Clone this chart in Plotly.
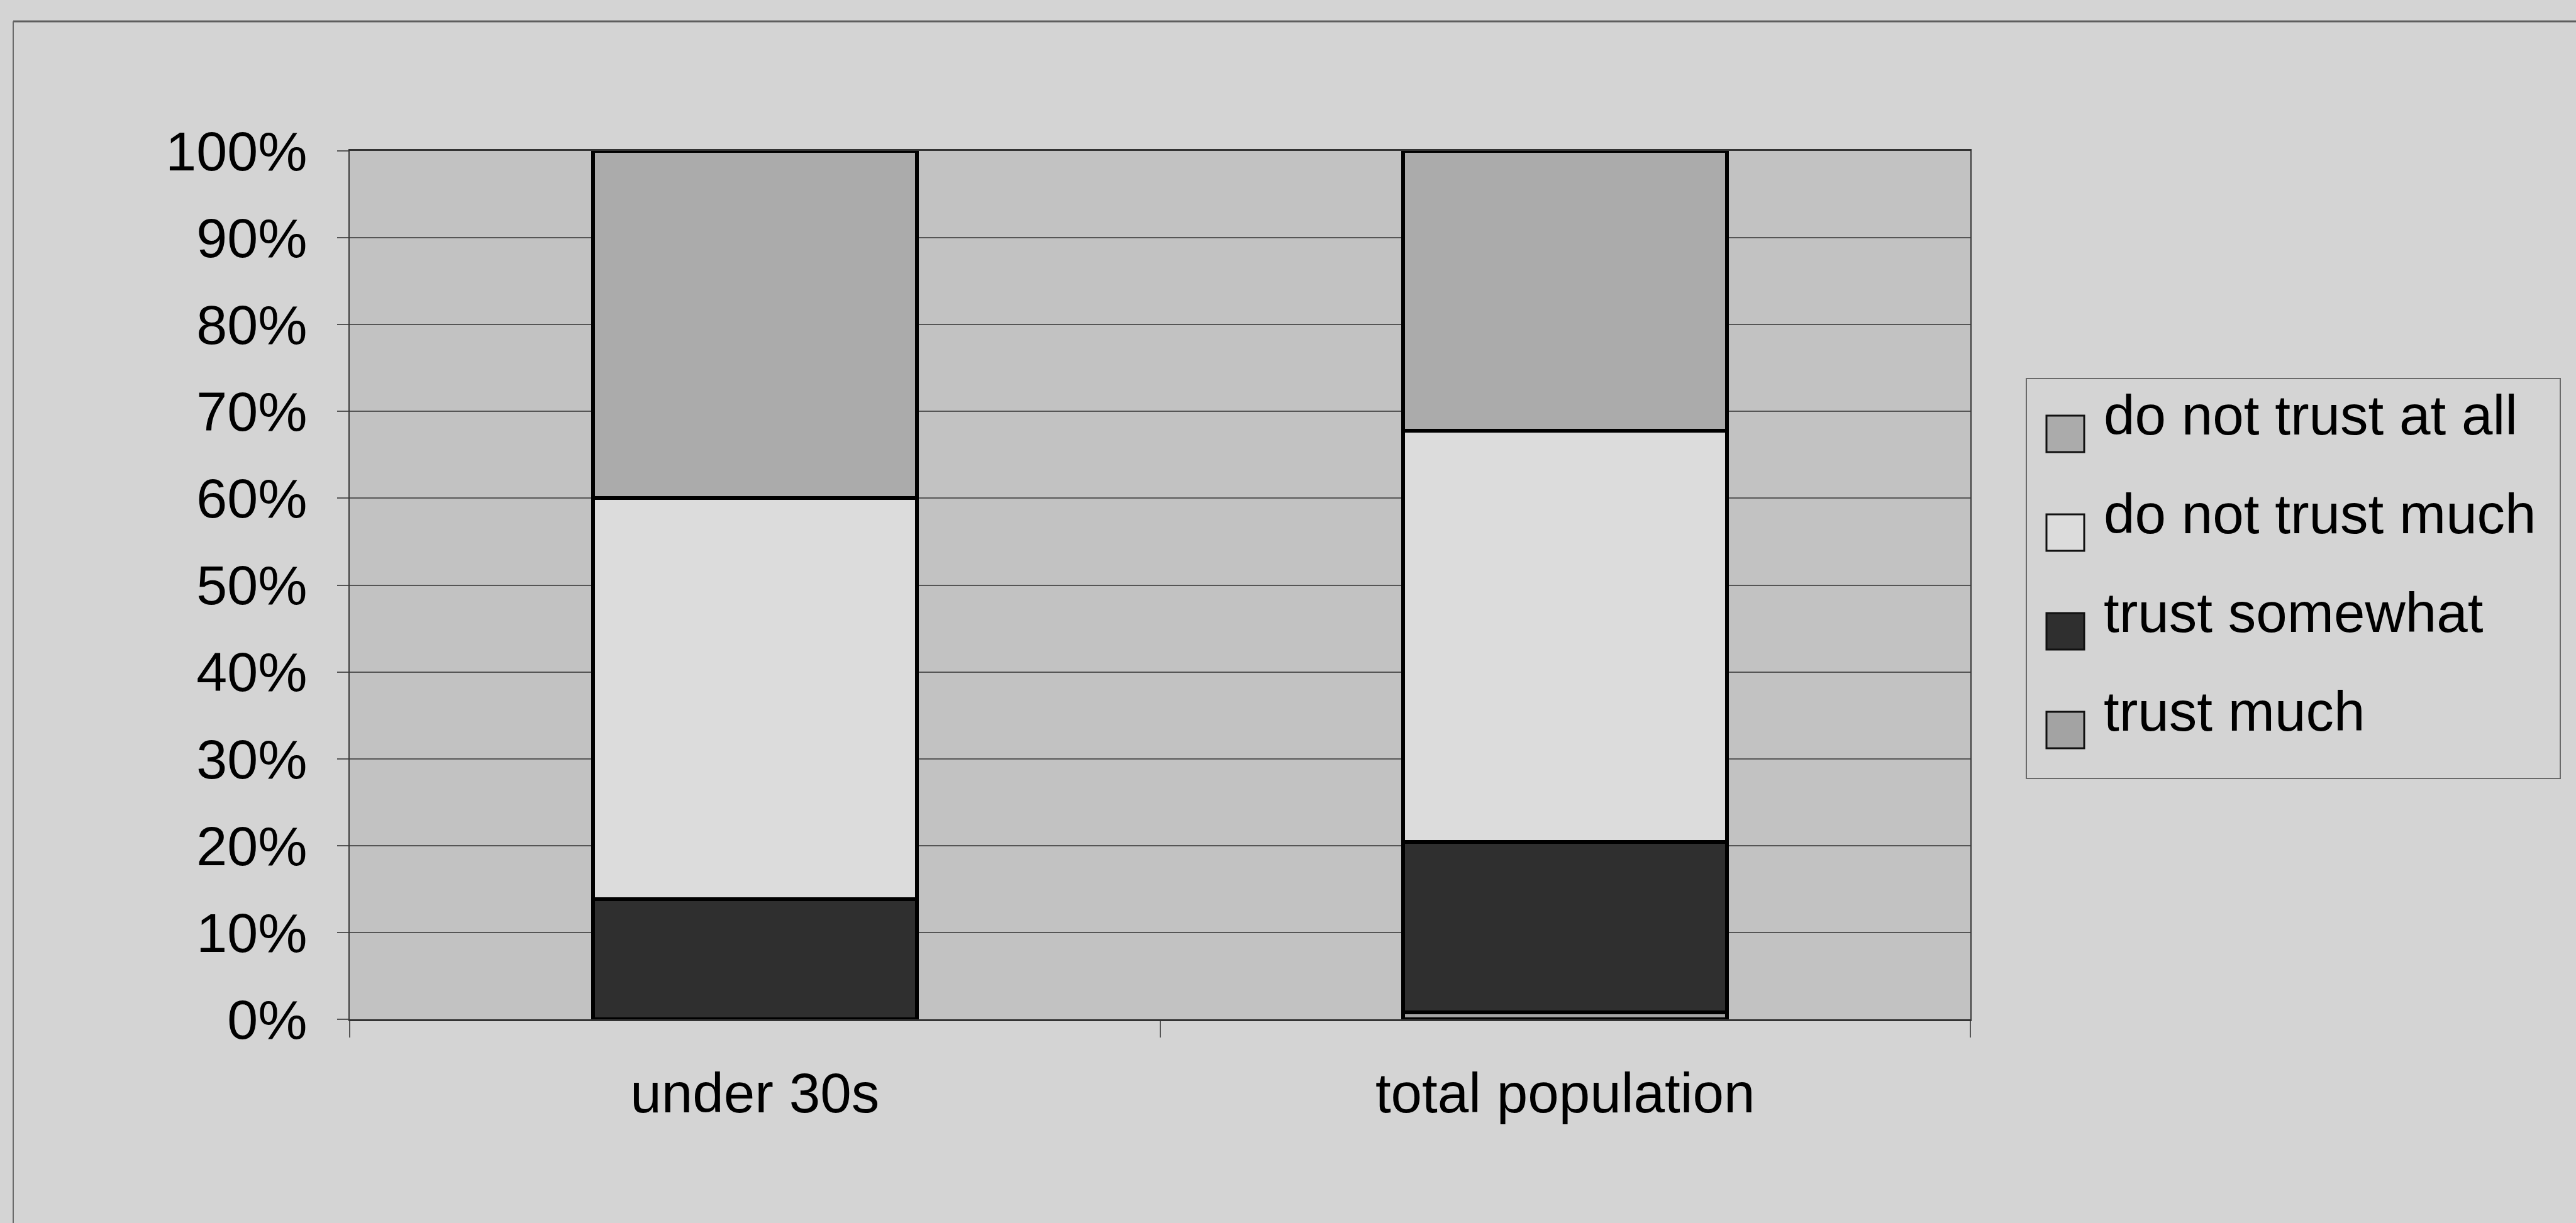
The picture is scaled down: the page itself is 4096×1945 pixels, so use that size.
import plotly.graph_objects as go

# ---- data -------------------------------------------------------------
categories = ["under 30s", "total population"]

trust_much = [0.0, 0.8]
trust_somewhat = [13.8, 19.6]
do_not_trust_much = [46.2, 47.4]
do_not_trust_at_all = [40.0, 32.2]

series_names = ["trust much", "trust somewhat", "do not trust much", "do not trust at all"]
series_values = [trust_much, trust_somewhat, do_not_trust_much, do_not_trust_at_all]

y_tick_values = [0, 10, 20, 30, 40, 50, 60, 70, 80, 90, 100]
y_tick_labels = ["0%", "10%", "20%", "30%", "40%", "50%", "60%", "70%", "80%", "90%", "100%"]

# ---- styling ----------------------------------------------------------
W, H = 4096, 1945
PLOT_L, PLOT_R, PLOT_T, PLOT_B = 556, 3133, 240, 1621
FONT = "Liberation Sans, Arial, sans-serif"
FS = 88

series_colors = {
    "trust much": "#a3a3a3",
    "trust somewhat": "#2f2f2f",
    "do not trust much": "#dcdcdc",
    "do not trust at all": "#ababab",
}


def px_x(x):
    return (x - PLOT_L) / (PLOT_R - PLOT_L)


def px_y(y):
    return (PLOT_B - y) / (PLOT_B - PLOT_T)


fig = go.Figure()
for name, vals in zip(series_names, series_values):
    fig.add_trace(go.Bar(
        x=categories,
        y=vals,
        name=name,
        width=0.40,
        marker=dict(color=series_colors[name], line=dict(color="#000000", width=6)),
        showlegend=False,
    ))

shapes = []
annotations = []

# outer chart frame (top and left edges)
shapes.append(dict(type="line", xref="paper", yref="paper",
                   x0=px_x(21), x1=px_x(W), y0=px_y(34), y1=px_y(34),
                   line=dict(color="#5e5e5e", width=3)))
shapes.append(dict(type="line", xref="paper", yref="paper",
                   x0=px_x(21), x1=px_x(21), y0=px_y(34), y1=px_y(H),
                   line=dict(color="#6a6a6a", width=2)))

# legend box
shapes.append(dict(type="rect", xref="paper", yref="paper",
                   x0=px_x(3222), x1=px_x(4071), y0=px_y(602), y1=px_y(1238),
                   line=dict(color="#6a6a6a", width=2), fillcolor="rgba(0,0,0,0)"))

legend_order = list(reversed(series_names))
for k, name in enumerate(legend_order):
    cy = 690 + 157 * k
    shapes.append(dict(type="rect", xref="paper", yref="paper",
                       x0=px_x(3254), x1=px_x(3314), y0=px_y(cy - 29), y1=px_y(cy + 29),
                       line=dict(color="#111111", width=3),
                       fillcolor=series_colors[name]))
    annotations.append(dict(text=name, xref="paper", yref="paper",
                            x=px_x(3343), y=px_y(cy - 30),
                            xanchor="left", yanchor="middle", showarrow=False,
                            font=dict(family=FONT, size=FS + 1, color="#000000")))

fig.update_layout(
    width=W, height=H, autosize=False,
    margin=dict(l=PLOT_L, r=W - PLOT_R, t=PLOT_T, b=H - PLOT_B, pad=0),
    paper_bgcolor="#d4d4d4",
    plot_bgcolor="#c2c2c2",
    barmode="stack",
    bargap=0.6,
    font=dict(family=FONT, size=FS, color="#000000"),
    shapes=shapes,
    annotations=annotations,
    showlegend=False,
)

fig.update_xaxes(
    type="category",
    showgrid=False,
    showline=True, linecolor="#333333", linewidth=3, mirror=True,
    ticks="outside", tickson="boundaries", ticklen=26, tickwidth=2, tickcolor="#555555",
    ticklabelstandoff=38,
    tickfont=dict(family=FONT, size=FS + 1, color="#000000"),
)

fig.update_yaxes(
    range=[0, 100],
    tickmode="array", tickvals=y_tick_values, ticktext=y_tick_labels,
    showgrid=True, gridcolor="#555555", gridwidth=2,
    zeroline=False,
    showline=True, linecolor="#3a3a3a", linewidth=2, mirror=True,
    ticks="outside", ticklen=18, tickwidth=2, tickcolor="#555555",
    ticklabelstandoff=30,
    tickfont=dict(family=FONT, size=FS, color="#000000"),
)

fig.write_html("out.html")
